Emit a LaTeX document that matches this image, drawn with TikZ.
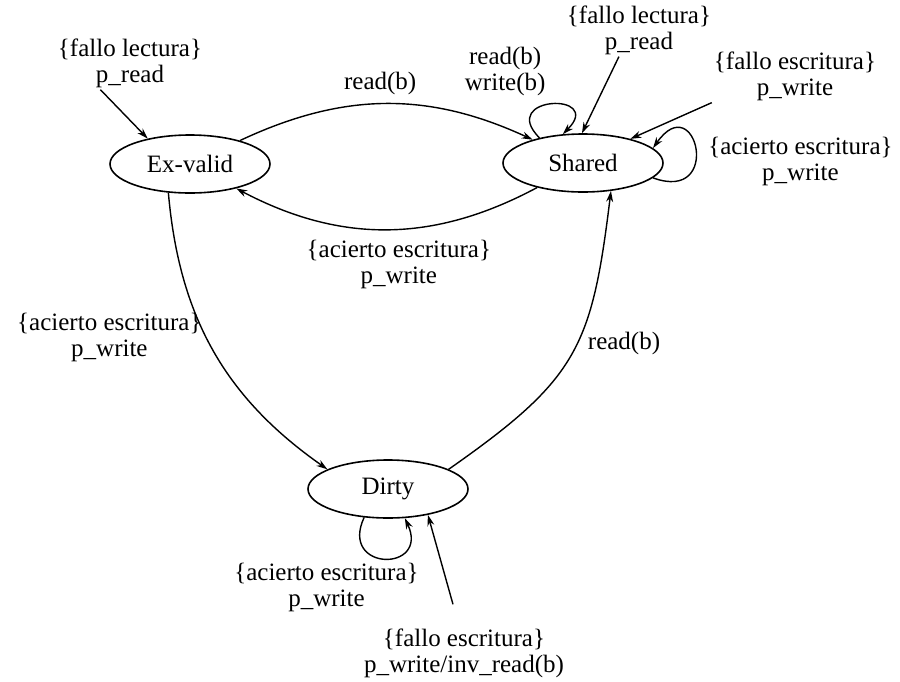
\documentclass[tikz,border=0pt]{standalone}
\usepackage{fontspec}
\setmainfont{Liberation Serif}
\usetikzlibrary{shapes,arrows.meta,positioning}
\tikzset{
  cache_state/.style = {
    ellipse,
    draw=black,
    line width=1.6pt,
    inner sep=0pt,
    minimum width=160pt,
    minimum height=58pt
  },
  cache_arrow/.style = {
    line width=1.4pt,
    ->,
    >={Stealth[length=11pt, width=7pt]}
  },
  cond/.style = {
    align=center,
    inner sep=2pt
  }
}

\begin{document}
\begin{tikzpicture}[x=1pt, y=1pt, font=\fontsize{25}{26}\selectfont]
\useasboundingbox (0,0) rectangle (900,-681);

% Estados
\node[cache_state] (exvalid) at (190,-164) {Ex-valid};
\node[cache_state] (shared) at (583,-163) {Shared};
\node[cache_state] (dirty) at (388,-489) {Dirty};

% Condiciones externas
\node[cond] (frex) at (130,-63) {\{fallo lectura\}\\p\_read};
\node[cond] (frsh) at (639,-30) {\{fallo lectura\}\\p\_read};
\node[cond] (fesh) at (795,-76) {\{fallo escritura\}\\p\_write};
\node[cond] (fedi) at (464,-653) {\{fallo escritura\}\\p\_write/inv\_read(b)};

% Transiciones
\draw[cache_arrow] (exvalid) to[bend left=25]
  node[cond, midway, above=6pt, xshift=-6pt] {read(b)} (shared);
\draw[cache_arrow] (shared) to[bend left=28]
  node[cond, midway, below=8pt, xshift=12pt] {\{acierto escritura\}\\p\_write} (exvalid);
\draw[cache_arrow] (exvalid.-127) to[out=-85, in=145]
  node[cond, pos=0.45, left=2pt] {\{acierto escritura\}\\p\_write} (dirty.162);
\draw[cache_arrow] (dirty.18) to[out=35, in=-97, looseness=1.25]
  node[cond, pos=0.55, right=8pt] {read(b)} (shared.-45);

% Bucles
\draw[cache_arrow] (shared.150) .. controls +(135:60pt) and +(45:60pt) .. (shared.125)
  node[cond, pos=0.5, anchor=south east, xshift=-3pt, yshift=6pt] {read(b)\\write(b)};
\draw[cache_arrow] (shared.-12) .. controls +(-20:75pt) and +(55:75pt) .. (shared.12)
  node[cond, pos=0.5, right=10pt, yshift=-12pt] {\{acierto escritura\}\\p\_write};
\draw[cache_arrow] (dirty.-130) .. controls +(-115:60pt) and +(-65:60pt) .. (dirty.-60)
  node[cond, pos=0.5, below=2pt, xshift=-58pt] {\{acierto escritura\}\\p\_write};

% Entradas
\draw[cache_arrow] (frex.-138) -- (exvalid.149);
\draw[cache_arrow] (frsh.-127) -- (shared.92);
\draw[cache_arrow] (fesh.south west) -- (shared.27);
\draw[cache_arrow] ([xshift=-11pt, yshift=22pt]fedi.north) -- (dirty.-33);

\end{tikzpicture}
\end{document}
